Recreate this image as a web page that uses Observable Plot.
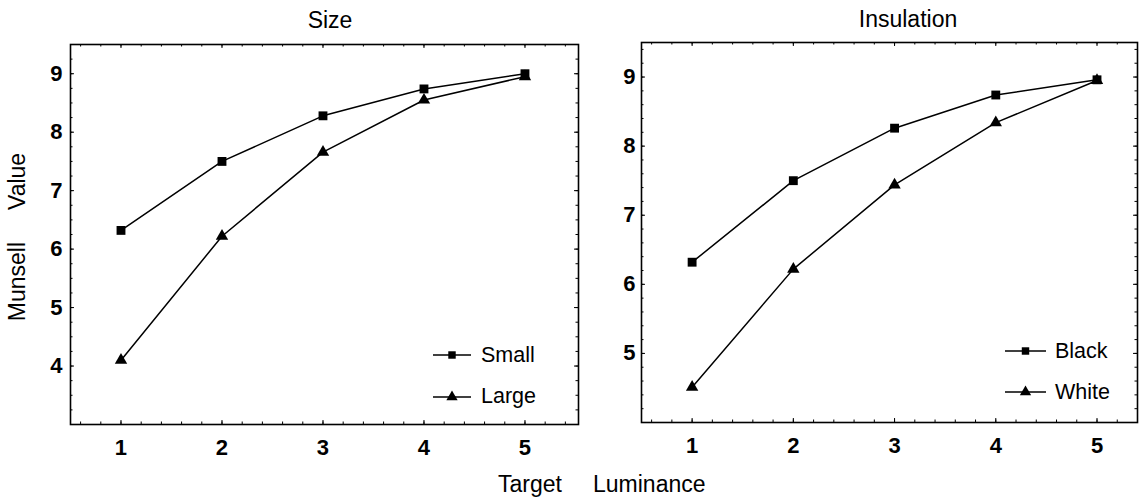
<!DOCTYPE html>
<html><head><meta charset="utf-8">
<script src="https://cdn.jsdelivr.net/npm/d3@7"></script>
<script src="https://cdn.jsdelivr.net/npm/@observablehq/plot@0.6"></script>
<style>
html,body{margin:0;padding:0;background:#fff;}
#fig{position:relative;width:1139px;height:499px;overflow:hidden;font-family:"Liberation Sans",Arial,Helvetica,sans-serif;background:#fff;}
#fig svg{position:absolute;}
#fig svg.panel text{font-size:22px !important;font-weight:bold;fill:#000;}
</style></head><body><div id="fig"></div>
<script>
// ---- data ----
const luminance = [1, 2, 3, 4, 5];
const sizeSmall = [6.32, 7.5, 8.28, 8.74, 9.0];
const sizeLarge = [4.1, 6.22, 7.66, 8.55, 8.95];
const insBlack  = [6.32, 7.5, 8.26, 8.74, 8.96];
const insWhite  = [4.51, 6.22, 7.44, 8.34, 8.95];
const xTicks = [1, 2, 3, 4, 5];
const sizeYTicks = [4, 5, 6, 7, 8, 9];
const insYTicks = [5, 6, 7, 8, 9];
const sizeNames = ["Small", "Large"];
const insNames = ["Black", "White"];
const titles = ["Size", "Insulation"];
const yLabelParts = ["Munsell", "Value"];
const xLabelParts = ["Target", "Luminance"];

const FONT = '"Liberation Sans", Arial, Helvetica, sans-serif';
const fig = document.getElementById("fig");

function stepTicks(d0, d1, step) {
  const out = [];
  for (let k = Math.ceil(d0 / step - 1e-9); k <= Math.floor(d1 / step + 1e-9); k++) out.push(+(k * step).toFixed(4));
  return out;
}

function panel(o) {
  const rows = [];
  o.names.forEach((n, i) => luminance.forEach((x, j) => rows.push({series: n, x, y: o.values[i][j]})));
  const fw = o.width - o.ml - o.mr, fh = o.height - o.mt - o.mb;
  const minorX = stepTicks(o.xDomain[0], o.xDomain[1], 0.2);
  const minorY = stepTicks(o.yDomain[0], o.yDomain[1], o.yMinor);
  const majLen = 4, minLen = 2.5;
  const tickStyle = {stroke: "black", strokeWidth: 1};
  const chart = Plot.plot({
    width: o.width, height: o.height,
    marginLeft: o.ml, marginRight: o.mr, marginTop: o.mt, marginBottom: o.mb,
    x: {domain: o.xDomain, label: null},
    y: {domain: o.yDomain, label: null},
    style: {fontFamily: FONT, fontSize: "22px", color: "black", background: "transparent", overflow: "visible"},
    marks: [
      // inward minor ticks
      Plot.tickY(minorY, {y: d => d, insetRight: fw - minLen, ...tickStyle}),
      Plot.tickY(minorY, {y: d => d, insetLeft: fw - minLen, ...tickStyle}),
      Plot.tickX(minorX, {x: d => d, insetTop: fh - minLen, ...tickStyle}),
      Plot.tickX(minorX, {x: d => d, insetBottom: fh - minLen, ...tickStyle}),
      // inward major ticks
      Plot.tickY(o.yTicks, {y: d => d, insetRight: fw - majLen, ...tickStyle}),
      Plot.tickY(o.yTicks, {y: d => d, insetLeft: fw - majLen, ...tickStyle}),
      Plot.tickX(xTicks, {x: d => d, insetTop: fh - majLen, ...tickStyle}),
      Plot.tickX(xTicks, {x: d => d, insetBottom: fh - majLen, ...tickStyle}),
      Plot.frame({stroke: "black", strokeWidth: 1.6}),
      Plot.axisX(xTicks, {tickSize: 0, tickPadding: 15, label: null, tickFormat: d => String(d)}),
      Plot.axisY(o.yTicks, {tickSize: 0, tickPadding: o.yPad, label: null, tickFormat: d => String(d)}),
      Plot.line(rows, {x: "x", y: "y", z: "series", stroke: "black", strokeWidth: 1.5}),
      Plot.dot(rows.filter(d => d.series === o.names[0]), {x: "x", y: "y", symbol: "square", r: 5, fill: "black", stroke: "none"}),
      Plot.dot(rows.filter(d => d.series === o.names[1]), {x: "x", y: "y", symbol: "triangle", r: 4.6, fill: "black", stroke: "none"})
    ]
  });
  chart.classList.add("panel");
  chart.style.left = o.left + "px";
  chart.style.top = "0px";
  fig.appendChild(chart);
}

panel({left: 0, width: 600, height: 470, ml: 70, mr: 22, mt: 44, mb: 46,
  xDomain: [0.5, 5.53], yDomain: [3, 9.5], yTicks: sizeYTicks, yMinor: 0.25, yPad: 8,
  names: sizeNames, values: [sizeSmall, sizeLarge]});
panel({left: 600, width: 539, height: 470, ml: 41, mr: 2, mt: 42, mb: 48,
  xDomain: [0.5, 5.4], yDomain: [4, 9.5], yTicks: insYTicks, yMinor: 0.2, yPad: 6,
  names: insNames, values: [insBlack, insWhite]});

// ---- annotations: titles, axis labels, legends ----
const svg = d3.select(fig).append("svg")
  .attr("width", 1139).attr("height", 499)
  .style("left", "0px").style("top", "0px")
  .attr("font-family", FONT).attr("fill", "black");

svg.append("text").attr("x", 330).attr("y", 28).attr("text-anchor", "middle").attr("font-size", 23).text(titles[0]);
svg.append("text").attr("x", 908).attr("y", 27).attr("text-anchor", "middle").attr("font-size", 23).text(titles[1]);

const yl = svg.append("g").attr("transform", "translate(25,240) rotate(-90)").attr("font-size", 23);
yl.append("text").attr("x", -2).attr("text-anchor", "end").text(yLabelParts[0]);
yl.append("text").attr("x", 30).attr("text-anchor", "start").text(yLabelParts[1]);

svg.append("text").attr("x", 562).attr("y", 492).attr("text-anchor", "end").attr("font-size", 23).text(xLabelParts[0]);
svg.append("text").attr("x", 593).attr("y", 492).attr("text-anchor", "start").attr("font-size", 23).text(xLabelParts[1]);

function legend(items) {
  items.forEach(it => {
    svg.append("line").attr("x1", it.x1).attr("x2", it.x2).attr("y1", it.y).attr("y2", it.y)
      .attr("stroke", "black").attr("stroke-width", 1.5);
    svg.append("path").attr("transform", `translate(${(it.x1 + it.x2) / 2},${it.y})`)
      .attr("d", d3.symbol().type(it.sym).size(Math.PI * it.r * it.r)()).attr("fill", "black");
    svg.append("text").attr("x", it.tx).attr("y", it.ty).attr("font-size", 21.5).text(it.label);
  });
}
legend([
  {label: sizeNames[0], sym: d3.symbolSquare, r: 4.2, x1: 433, x2: 471, y: 355, tx: 481, ty: 362},
  {label: sizeNames[1], sym: d3.symbolTriangle, r: 4.2, x1: 433, x2: 471, y: 397, tx: 481, ty: 403},
  {label: insNames[0], sym: d3.symbolSquare, r: 4.2, x1: 1005, x2: 1046, y: 351, tx: 1055, ty: 358},
  {label: insNames[1], sym: d3.symbolTriangle, r: 4.2, x1: 1005, x2: 1046, y: 392, tx: 1055, ty: 399}
]);
</script></body></html>
